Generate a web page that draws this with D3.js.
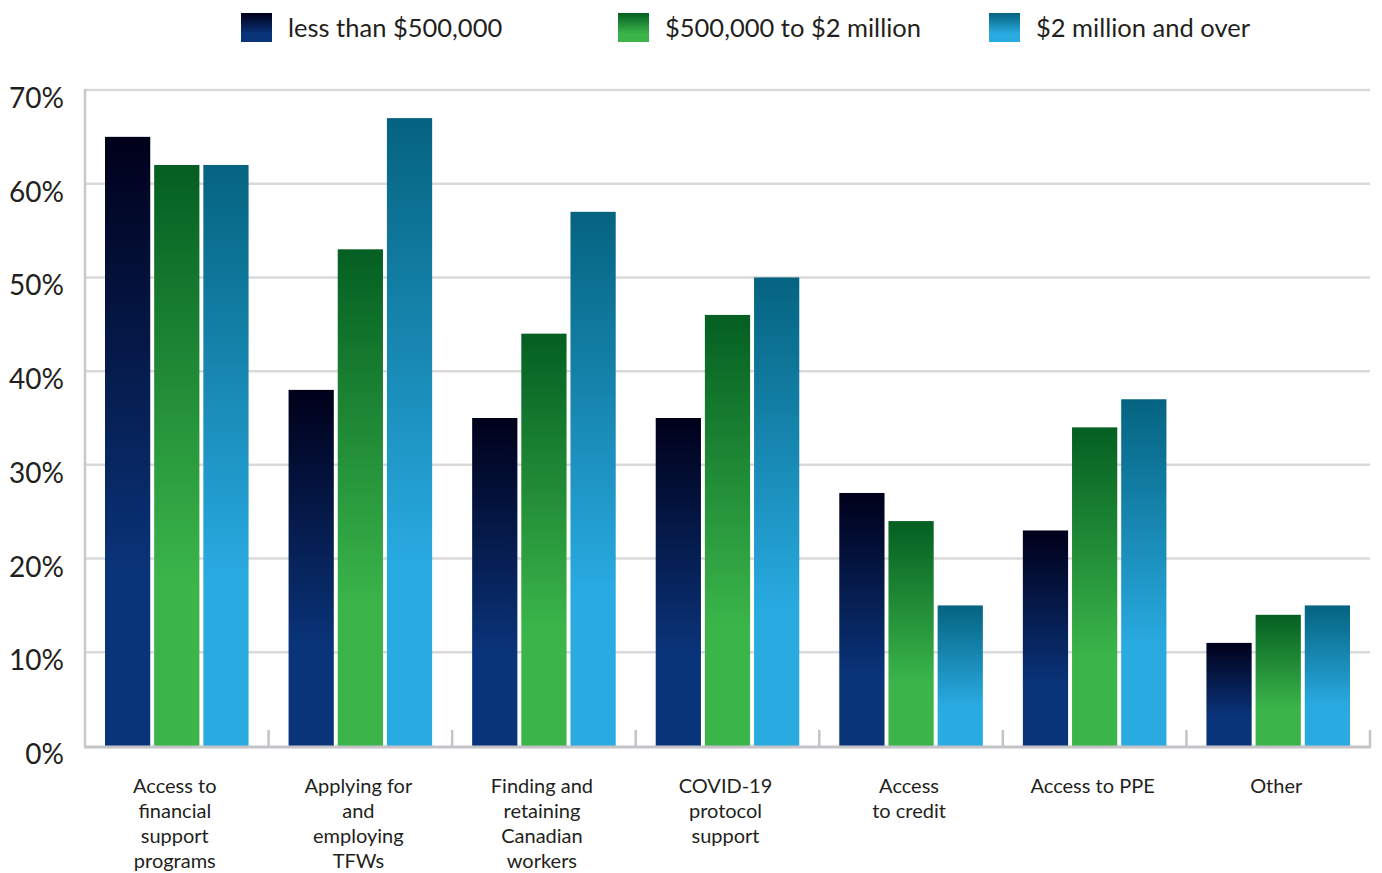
<!DOCTYPE html>
<html>
<head>
<meta charset="utf-8">
<script src="https://cdn.jsdelivr.net/npm/d3@7"></script>
<style>
  body { margin: 0; background: #fff; }
  text { font-family: Lato, "Open Sans", sans-serif; fill: #231f20; }
</style>
</head>
<body>
<svg id="chart" width="1382" height="873"></svg>
<script>
const w = 1382;
const h = 873;

var categories = [
  "Access to\nfinancial\nsupport\nprograms",
  "Applying for\nand\nemploying\nTFWs",
  "Finding and\nretaining\nCanadian\nworkers",
  "COVID-19\nprotocol\nsupport",
  "Access\nto credit",
  "Access to PPE",
  "Other"
];
var seriesNames = ["less than $500,000", "$500,000 to $2 million", "$2 million and over"];
var small = [65, 38, 35, 35, 27, 23, 11];
var medium = [62, 53, 44, 46, 24, 34, 14];
var large = [62, 67, 57, 50, 15, 37, 15];
var yTicks = [0, 10, 20, 30, 40, 50, 60, 70];

// top / bottom colours of each bar gradient
var topColors = ["#00001a", "#045f22", "#056380"];
var bottomColors = ["#0a347a", "#3bb54a", "#29abe2"];

var series = [small, medium, large];

var plotLeft = 85, plotRight = 1370, plotTop = 90, plotBottom = 746;

var svg = d3.select("#chart");

var defs = svg.append("defs");
seriesNames.forEach(function (d, i) {
  var g = defs.append("linearGradient")
    .attr("id", "grad" + i)
    .attr("x1", 0).attr("y1", 0).attr("x2", 0).attr("y2", 1);
  g.append("stop").attr("offset", "0%").attr("stop-color", topColors[i]);
  g.append("stop").attr("offset", "72%").attr("stop-color", bottomColors[i]);
  g.append("stop").attr("offset", "100%").attr("stop-color", bottomColors[i]);
});

var x0 = d3.scaleBand()
  .domain(d3.range(categories.length))
  .range([plotLeft, plotRight]);

var x1 = d3.scaleBand()
  .domain(d3.range(series.length))
  .range([20, x0.bandwidth() - 20])
  .paddingInner(0.08);

var y = d3.scaleLinear()
  .domain([0, 70])
  .range([plotBottom, plotTop]);

// gridlines
svg.append("g")
  .selectAll("line")
  .data(yTicks.filter(function (d) { return d > 0; }))
  .enter()
  .append("line")
  .attr("x1", plotLeft)
  .attr("x2", plotRight)
  .attr("y1", function (d) { return y(d); })
  .attr("y2", function (d) { return y(d); })
  .attr("stroke", "#d9d9d9")
  .attr("stroke-width", 2.5);

// y labels
svg.append("g")
  .selectAll("text")
  .data(yTicks)
  .enter()
  .append("text")
  .attr("x", 64)
  .attr("y", function (d) { return y(d) + 18; })
  .attr("text-anchor", "end")
  .attr("font-size", "28px")
  .text(function (d) { return d + "%"; });

// bars
var groups = svg.append("g")
  .selectAll("g")
  .data(categories)
  .enter()
  .append("g")
  .attr("transform", function (d, i) { return "translate(" + x0(i) + ",0)"; });

groups.selectAll("rect")
  .data(function (d, i) {
    return series.map(function (s, j) { return { s: j, v: s[i] }; });
  })
  .enter()
  .append("rect")
  .attr("x", function (d) { return x1(d.s); })
  .attr("y", function (d) { return y(d.v); })
  .attr("width", x1.bandwidth())
  .attr("height", function (d) { return y(0) - y(d.v); })
  .attr("fill", function (d) { return "url(#grad" + d.s + ")"; });

// axis lines
svg.append("line")
  .attr("x1", plotLeft).attr("x2", plotLeft)
  .attr("y1", plotTop - 1).attr("y2", plotBottom + 1)
  .attr("stroke", "#c8c8cc")
  .attr("stroke-width", 2.5);

svg.append("line")
  .attr("x1", plotLeft - 1).attr("x2", plotRight + 1)
  .attr("y1", plotBottom + 1).attr("y2", plotBottom + 1)
  .attr("stroke", "#c4c4c8")
  .attr("stroke-width", 3);

// separator ticks between groups
svg.append("g")
  .selectAll("line")
  .data(d3.range(1, categories.length + 1))
  .enter()
  .append("line")
  .attr("x1", function (d) { return x0.step() * d + plotLeft; })
  .attr("x2", function (d) { return x0.step() * d + plotLeft; })
  .attr("y1", plotBottom - 16)
  .attr("y2", plotBottom + 1)
  .attr("stroke", "#c4c4c8")
  .attr("stroke-width", 2.5);

// category labels
groups.append("text")
  .attr("text-anchor", "middle")
  .attr("font-size", "20px")
  .attr("x", x0.bandwidth() / 2)
  .attr("y", 793)
  .selectAll("tspan")
  .data(function (d) { return d.split("\n"); })
  .enter()
  .append("tspan")
  .attr("x", x0.bandwidth() / 2 - 2)
  .attr("dy", function (d, i) { return i === 0 ? 0 : 25; })
  .text(function (d) { return d; });

// legend
var legendX = [241, 618, 989];
var legend = svg.append("g")
  .selectAll("g")
  .data(seriesNames)
  .enter()
  .append("g")
  .attr("transform", function (d, i) { return "translate(" + legendX[i] + ",13)"; });

legend.append("rect")
  .attr("width", 31)
  .attr("height", 29)
  .attr("fill", function (d, i) { return "url(#grad" + i + ")"; });

legend.append("text")
  .attr("x", 47)
  .attr("y", 24)
  .attr("font-size", "25.5px")
  .text(function (d) { return d; });
</script>
</body>
</html>
